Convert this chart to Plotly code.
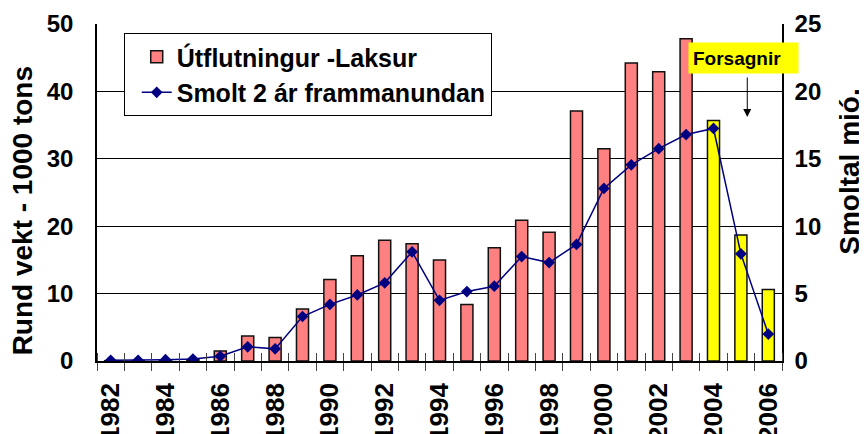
import plotly.graph_objects as go

years = list(range(1982, 2007))
# Útflutningur - Laksur, 1000 tons (left axis)
export_k_tons = [0.05, 0.05, 0.1, 0.2, 1.5, 3.7, 3.5, 7.7, 12.1, 15.6, 17.9, 17.4,
                 15.0, 8.4, 16.8, 20.9, 19.1, 37.1, 31.5, 44.2, 42.9, 47.8,
                 35.7, 18.7, 10.6]
# Smolt 2 ár frammanundan, milljónir (right axis)
smolt_mio = [0.05, 0.05, 0.1, 0.15, 0.35, 1.05, 0.9, 3.3, 4.2, 4.9, 5.8, 8.1,
             4.5, 5.15, 5.55, 7.75, 7.3, 8.65, 12.8, 14.55, 15.75, 16.8,
             17.25, 7.95, 2.0]
forecast_years = [2004, 2005, 2006]
tick_years = list(range(1982, 2007, 2))

FONT = "Liberation Sans, Arial, sans-serif"
bar_colors = ["#FFFF00" if y in forecast_years else "#FF8080" for y in years]

fig = go.Figure()

fig.add_bar(
    x=years, y=export_k_tons, name="Útflutningur -Laksur",
    width=0.44,
    marker=dict(color=bar_colors, line=dict(color="#111111", width=1.5)),
)

# line on an overlaid x axis, that axis also gives the inward half of the x ticks
fig.add_scatter(
    x=years, y=smolt_mio, name="Smolt 2 ár frammanundan",
    xaxis="x2", yaxis="y2", mode="lines+markers",
    line=dict(color="#000080", width=1.5),
    marker=dict(symbol="diamond", size=9, color="#000080"),
)

ytick_font = dict(family=FONT, size=24, color="black", weight="bold")
xtick_font = dict(family=FONT, size=26, color="black", weight="bold")
title_font = dict(family=FONT, size=28, color="black", weight="bold")

# the page body has an 8px margin, so the figure starts 8px in from the window corner
fig.update_layout(
    width=859, height=426,
    margin=dict(l=89, r=85, t=16, b=73),
    plot_bgcolor="white", paper_bgcolor="white",
    showlegend=True,
    legend=dict(
        x=0.039, y=0.973, xanchor="left", yanchor="top",
        bgcolor="white", bordercolor="black", borderwidth=1,
        font=dict(family=FONT, size=25, color="black", weight="bold"),
        tracegroupgap=0, itemwidth=30, indentation=12,
    ),
    xaxis=dict(
        range=[1981.5, 2006.5],
        tickvals=tick_years, ticktext=[str(y) for y in tick_years],
        tickangle=-90, tickfont=xtick_font,
        ticks="", showgrid=False, automargin=False,
        showline=True, linecolor="black", linewidth=1.5,
        minor=dict(tick0=1981.5, dtick=1, ticks="outside", ticklen=8,
                   tickcolor="#444", tickwidth=1, showgrid=False),
        ticklabelstandoff=10,
    ),
    xaxis2=dict(
        range=[1981.5, 2006.5], overlaying="x", anchor="y2",
        showticklabels=False, ticks="", showgrid=False, automargin=False,
        minor=dict(tick0=1981.5, dtick=1, ticks="inside", ticklen=8,
                   tickcolor="#444", tickwidth=1, showgrid=False),
    ),
    yaxis=dict(
        range=[0, 50], dtick=10, tickfont=ytick_font, automargin=False,
        showgrid=True, gridcolor="black", gridwidth=1,
        showline=True, linecolor="black", linewidth=1.5,
        ticks="inside", ticklen=8, tickcolor="black",
        zeroline=False, ticklabelstandoff=17,
    ),
    yaxis2=dict(
        range=[0, 25], dtick=5, overlaying="y", side="right",
        tickfont=ytick_font, showgrid=False, automargin=False,
        showline=True, linecolor="black", linewidth=1.5,
        ticks="inside", ticklen=6, tickcolor="black",
        zeroline=False, ticklabelstandoff=6,
    ),
)

# axis titles
fig.add_annotation(
    xref="paper", yref="paper", x=-0.109, y=0.445,
    text="Rund vekt - 1000 tons", textangle=-90, showarrow=False,
    font=title_font, xanchor="center", yanchor="middle",
)
fig.add_annotation(
    xref="paper", yref="paper", x=1.098, y=0.562,
    text="Smoltal mió.", textangle=-90, showarrow=False,
    font=title_font, xanchor="center", yanchor="middle",
)

# Forsagnir label and its arrow
fig.add_annotation(
    xref="paper", yref="paper", x=0.9437, y=0.899,
    text="Forsagnir", showarrow=False,
    font=dict(family=FONT, size=19, color="black", weight="bold"),
    bgcolor="#FFFF00", borderpad=4, width=101, height=22, align="left",
    xanchor="center", yanchor="middle",
)
fig.add_annotation(
    xref="paper", yref="paper", x=0.9493, y=0.724,
    ax=0, ay=-41, text="",
    showarrow=True, arrowhead=2, arrowsize=1.6, arrowwidth=1, arrowcolor="black",
)

fig.write_html("out.html")
